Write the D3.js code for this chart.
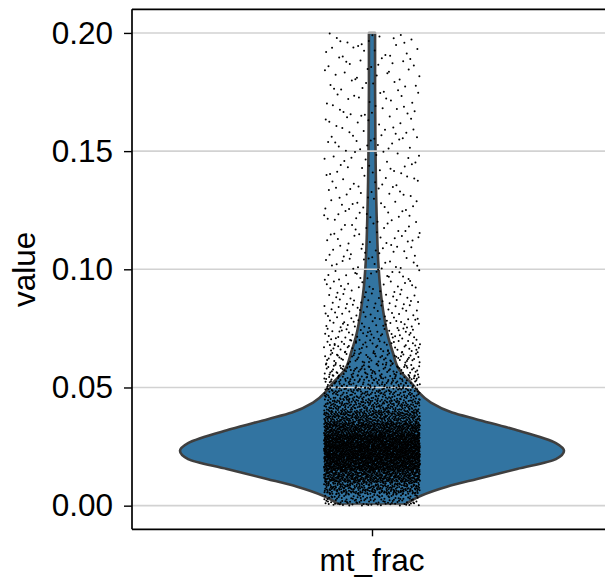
<!DOCTYPE html>
<html>
<head>
<meta charset="utf-8">
<script src="https://cdn.jsdelivr.net/npm/d3@7"></script>
<style>
  body { margin: 0; background: #fff; }
  text { font-family: "Liberation Sans", Arial, Helvetica, sans-serif; fill: #000; }
</style>
</head>
<body>
<svg id="chart"></svg>
<script>
// Category and axis ticks
const categories = ["mt_frac"];
const yTicks = [0.00, 0.05, 0.10, 0.15, 0.20];

// Violin outline: value and relative density (1 = widest)
const violinValues = [0.0005, 0.0042, 0.008, 0.0113, 0.0155, 0.0197, 0.0232, 0.0265, 0.0324, 0.0366,
  0.0394, 0.0436, 0.0478, 0.0506, 0.0577, 0.0647, 0.0717, 0.083, 0.0929, 0.1013, 0.1266, 0.152, 0.177, 0.2];
const violinDensity = [0.172, 0.255, 0.39, 0.547, 0.755, 0.958, 1.0, 0.958, 0.734, 0.542,
  0.417, 0.307, 0.245, 0.219, 0.14, 0.109, 0.083, 0.057, 0.042, 0.034, 0.023, 0.018, 0.016, 0.016];

// Number of points (cells) in each 0.005-wide bin, starting at 0.000
const binStarts = d3.range(0, 0.2, 0.005);
const binCounts = [120, 270, 450, 640, 720, 680, 500, 320, 210, 150,
  115, 85, 65, 52, 42, 35, 29, 25, 22, 20,
  18, 17, 16, 15, 15, 14, 14, 13, 13, 13,
  13, 13, 12, 12, 12, 12, 12, 12, 12, 12];

// Chart size
const W = 605, H = 583;
const margin = { top: 9.3, left: 132 };
const width = 480, height = 520;

const svg = d3.select("#chart").attr("width", W).attr("height", H);
const g = svg.append("g").attr("transform", `translate(${margin.left},${margin.top})`);

// Scales
const x = d3.scalePoint().domain(categories).range([0, width]).padding(0.5);
const y = d3.scaleLinear().domain([-0.01, 0.21]).range([height, 0]);
const w = d3.scaleLinear().domain([0, 1]).range([0, 192]);
const jitter = d3.scaleLinear().domain([0, 1]).range([-48, 48]);

const cx = x("mt_frac");

// Violin
const violinData = violinValues.map((v, i) => ({ v: v, d: violinDensity[i] }));
const area = d3.area()
  .y(d => y(d.v))
  .x0(d => cx - w(d.d))
  .x1(d => cx + w(d.d))
  .curve(d3.curveMonotoneY);

g.append("path")
  .datum(violinData)
  .attr("fill", "#3274a1")
  .attr("stroke", "#3f3f3f")
  .attr("stroke-width", 2.6)
  .attr("stroke-linejoin", "round")
  .attr("d", area);

// Grid lines
g.append("g")
  .selectAll("line")
  .data(yTicks)
  .enter()
  .append("line")
  .attr("x1", 0)
  .attr("x2", width)
  .attr("y1", d => y(d))
  .attr("y2", d => y(d))
  .attr("stroke", "#d2d2d2")
  .attr("stroke-width", 1.6);

// Halton sequence, used as a fixed (non-random) strip-plot jitter
function halton(i, base) {
  let f = 1, r = 0;
  while (i > 0) {
    f /= base;
    r += f * (i % base);
    i = Math.floor(i / base);
  }
  return r;
}

// Points: spread each bin's count over the bin
const points = [];
let k = 1;
binStarts.forEach((lo, b) => {
  for (let i = 0; i < binCounts[b]; i++) {
    points.push({ v: lo + halton(k, 2) * 0.005, j: halton(k, 3) });
    k++;
  }
});

g.append("g")
  .selectAll("circle")
  .data(points)
  .enter()
  .append("circle")
  .attr("cx", d => cx + jitter(d.j))
  .attr("cy", d => y(d.v))
  .attr("r", 1.0)
  .attr("fill", "#000");

// Spines
g.append("line").attr("x1", 0).attr("x2", width + 10).attr("y1", 0).attr("y2", 0)
  .attr("stroke", "#000").attr("stroke-width", 1.7);
g.append("line").attr("x1", 0).attr("x2", width + 10).attr("y1", height).attr("y2", height)
  .attr("stroke", "#000").attr("stroke-width", 1.7);

// Axes
const yAxis = g.append("g")
  .call(d3.axisLeft(y).tickValues(yTicks).tickFormat(d3.format(".2f")).tickSize(8).tickPadding(11));
yAxis.select(".domain").attr("stroke", "#000").attr("stroke-width", 1.7).attr("d", `M0,0V${height}`);
yAxis.selectAll(".tick line").attr("stroke", "#000").attr("stroke-width", 1.4);
yAxis.selectAll(".tick text").attr("font-size", "31.5px").attr("font-family", "Liberation Sans, Arial, sans-serif");

const xAxis = g.append("g")
  .attr("transform", `translate(0,${height})`)
  .call(d3.axisBottom(x).tickSize(7).tickFormat(""));
xAxis.select(".domain").remove();
xAxis.selectAll(".tick line").attr("stroke", "#000").attr("stroke-width", 1.4);

// Labels
svg.append("text")
  .attr("x", margin.left + cx)
  .attr("y", 570.7)
  .attr("text-anchor", "middle")
  .attr("font-size", "31.5px")
  .text("mt_frac");

svg.append("text")
  .attr("transform", `translate(35,${margin.top + height / 2}) rotate(-90)`)
  .attr("text-anchor", "middle")
  .attr("font-size", "31.5px")
  .text("value");
</script>
</body>
</html>
